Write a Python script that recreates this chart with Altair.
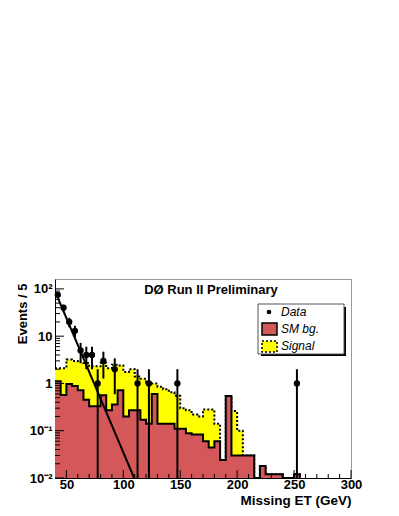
import altair as alt
import pandas as pd

# ---------------- data ----------------
bin_low = [40 + 5 * i for i in range(43)]          # 5 GeV bins, 40 ... 250
bin_width = 5
sm_bg = [1.12, 0.57, 0.97, 0.88, 0.72, 0.45, 0.33, 0.33, 0.56, 0.27,
         0.36, 0.72, 0.20, 0.27, 0.27, 0.17, 0.14, 0.60, 0.14, 0.14,
         0.14, 0.11, 0.11, 0.088, 0.083, 0.083, 0.06, 0.044, 0.06, 0.024,
         0.54, 0.03, 0.03, 0.03, 0.03, 0.0, 0.018, 0.012, 0.012, 0.012,
         0.0, 0.0, 0.012]
sm_plus_signal = [2.1, 2.1, 3.2, 3.0, 2.8, 2.7, 2.3, 2.3, 2.7, 2.1,
                  2.5, 2.4, 1.75, 2.0, 1.4, 1.25, 1.05, 1.0, 0.85, 0.75,
                  0.65, 0.55, 0.30, 0.27, 0.22, 0.20, 0.28, 0.28, 0.14, 0.024,
                  0.54, 0.26, 0.10, 0.03, 0.03, 0.0, 0.018, 0.012, 0.012, 0.012,
                  0.0, 0.0, 0.012]

data_x = [42.5, 47.5, 52.5, 57.5, 62.5, 67.5, 72.5, 77.5, 82.5, 92.5, 112.5, 122.5, 147.5, 252.5]
data_n = [75, 40, 20, 13, 5, 4, 4, 1, 3, 2, 1, 1, 1, 1]
data_lo = [66, 33.7, 15.5, 9.4, 2.8, 2.0, 2.0, 0.01, 1.27, 0.59, 0.01, 0.01, 0.01, 0.01]
data_hi = [84, 46.3, 24.5, 16.6, 7.2, 6.0, 6.0, 2.0, 4.7, 3.4, 2.0, 2.0, 2.0, 2.0]

fit_x = [40, 109.5]
fit_y = [90, 0.01]

x_major = [50, 100, 150, 200, 250, 300]
x_minor = [60, 70, 80, 90, 110, 120, 130, 140, 160, 170, 180, 190,
           210, 220, 230, 240, 260, 270, 280, 290]
y_major = [0.01, 0.1, 1, 10, 100]
y_minor = [m * d for d in [0.01, 0.1, 1, 10] for m in range(2, 10)]

legend_labels = ["Data", "SM bg.", "Signal"]
title_text = "DØ Run II Preliminary"
x_title = "Missing ET (GeV)"
y_title = "Events / 5"

RED = "#d4585a"
YEL = "#ffff00"
FONT = "Liberation Sans"
W, H = 296, 199
FLOOR = 0.01

# ---------------- tables ----------------
edge_x = bin_low + [bin_low[-1] + bin_width]
bg_line = pd.DataFrame({"lo": edge_x, "v": [max(v, FLOOR) for v in sm_bg] + [FLOOR],
                        "base": [FLOOR] * len(edge_x)})
tot_line = pd.DataFrame({"lo": edge_x, "v": [max(v, FLOOR) for v in sm_plus_signal] + [FLOOR],
                         "base": [FLOOR] * len(edge_x)})
pts = pd.DataFrame({"lo": data_x, "v": data_n, "elo": data_lo, "ehi": data_hi})
fit = pd.DataFrame({"lo": fit_x, "v": fit_y})
one = pd.DataFrame({"a": [0]})

xs = alt.Scale(domain=[40, 300], nice=False, zero=False)
ys = alt.Scale(type="log", domain=[0.01, 162], nice=False, clamp=True)

x_axis = alt.Axis(values=x_major, ticks=False, grid=False, domainColor="black",
                  labelFont=FONT, labelFontWeight="bold", labelFontSize=13,
                  labelColor="black", labelPadding=0, labelFlush=False,
                  title=x_title, titleFont=FONT, titleFontWeight="bold",
                  titleFontSize=13.5, titleColor="black", titleX=W, titleY=22,
                  titleAlign="right", titleBaseline="middle")
y_axis = alt.Axis(values=y_major, ticks=False, grid=False, domainColor="black",
                  labelExpr="datum.value > 50 ? '10²' : datum.value > 5 ? '10' : "
                            "datum.value > 0.5 ? '1' : datum.value > 0.05 ? '10⁻¹' : '10⁻²'",
                  labelFont=FONT, labelFontWeight="bold", labelFontSize=13,
                  labelColor="black", labelPadding=3,
                  title=y_title, titleFont=FONT, titleFontWeight="bold",
                  titleFontSize=13, titleColor="black", titleAngle=270,
                  titleX=-33, titleY=4, titleAlign="right", titleBaseline="middle")


def X(field="lo"):
    return alt.X(f"{field}:Q", scale=xs, axis=x_axis, title=x_title)


def Y(field="v"):
    return alt.Y(f"{field}:Q", scale=ys, axis=y_axis, title=y_title)


yellow = alt.Chart(tot_line).mark_area(
    interpolate="step-after", color=YEL, opacity=1, clip=True
).encode(x=X(), y=Y(), y2="base:Q")
yellow_out = alt.Chart(tot_line).mark_line(
    interpolate="step-after", color="black", strokeWidth=2, strokeDash=[2, 2], clip=True
).encode(x=X(), y=Y())
red = alt.Chart(bg_line).mark_area(
    interpolate="step-after", color=RED, opacity=1, clip=True
).encode(x=X(), y=Y(), y2="base:Q")
red_out = alt.Chart(bg_line).mark_line(
    interpolate="step-after", color="black", strokeWidth=2, clip=True
).encode(x=X(), y=Y())

fit_line = alt.Chart(fit).mark_line(color="black", strokeWidth=2, clip=True).encode(
    x=X(), y=Y())
err = alt.Chart(pts).mark_rule(color="black", strokeWidth=2, clip=True).encode(
    x=X(), y=Y("elo"), y2="ehi:Q")
dots = alt.Chart(pts).mark_circle(color="black", size=40, opacity=1).encode(
    x=X(), y=Y())

# inward ticks (ROOT style)
ymaj = alt.Chart(pd.DataFrame({"v": y_major})).mark_rule(color="black").encode(
    y=Y(), x=alt.value(0), x2=alt.value(9))
ymin = alt.Chart(pd.DataFrame({"v": y_minor})).mark_rule(color="black").encode(
    y=Y(), x=alt.value(0), x2=alt.value(5))
xmaj = alt.Chart(pd.DataFrame({"lo": x_major})).mark_rule(color="black").encode(
    x=X(), y=alt.value(H), y2=alt.value(H - 8))
xmin = alt.Chart(pd.DataFrame({"lo": x_minor})).mark_rule(color="black").encode(
    x=X(), y=alt.value(H), y2=alt.value(H - 4))

title = alt.Chart(one).mark_text(font=FONT, fontWeight="bold", fontSize=13,
                                 align="center", baseline="middle", color="black").encode(
    x=alt.value(156), y=alt.value(11), text=alt.value(title_text))

# legend box
shadow_r = alt.Chart(one).mark_rect(fill="black").encode(
    x=alt.value(288), x2=alt.value(291), y=alt.value(28), y2=alt.value(77))
shadow_b = alt.Chart(one).mark_rect(fill="black").encode(
    x=alt.value(206), x2=alt.value(291), y=alt.value(74), y2=alt.value(77))
box = alt.Chart(one).mark_rect(fill="white", stroke="#555555", strokeWidth=1).encode(
    x=alt.value(203), x2=alt.value(289), y=alt.value(25), y2=alt.value(75))
leg_dot = alt.Chart(one).mark_circle(color="black", size=22, opacity=1).encode(
    x=alt.value(214), y=alt.value(33))
leg_red = alt.Chart(one).mark_rect(fill=RED, stroke="black", strokeWidth=1.5).encode(
    x=alt.value(207), x2=alt.value(222), y=alt.value(44), y2=alt.value(56))
leg_yel = alt.Chart(one).mark_rect(fill=YEL, stroke="black", strokeWidth=1.5,
                                   strokeDash=[2, 2]).encode(
    x=alt.value(207), x2=alt.value(222), y=alt.value(62), y2=alt.value(73))
leg_txt = [
    alt.Chart(one).mark_text(font=FONT, fontStyle="italic", fontSize=12, align="left",
                             baseline="middle", color="black").encode(
        x=alt.value(226), y=alt.value(yy), text=alt.value(lab))
    for lab, yy in zip(legend_labels, [33, 50, 67])
]

chart = alt.layer(
    yellow, yellow_out, red, red_out, fit_line, err, dots,
    ymaj, ymin, xmaj, xmin, title,
    shadow_r, shadow_b, box, leg_dot, leg_red, leg_yel, *leg_txt
).properties(
    width=W, height=H,
    autosize=alt.AutoSizeParams(type="none"),
    padding={"left": 47, "top": 271, "right": 40, "bottom": 30},
).configure_view(stroke="#999999", strokeWidth=1)

chart.save("out.html", embed_options={"renderer": "svg", "actions": False})
